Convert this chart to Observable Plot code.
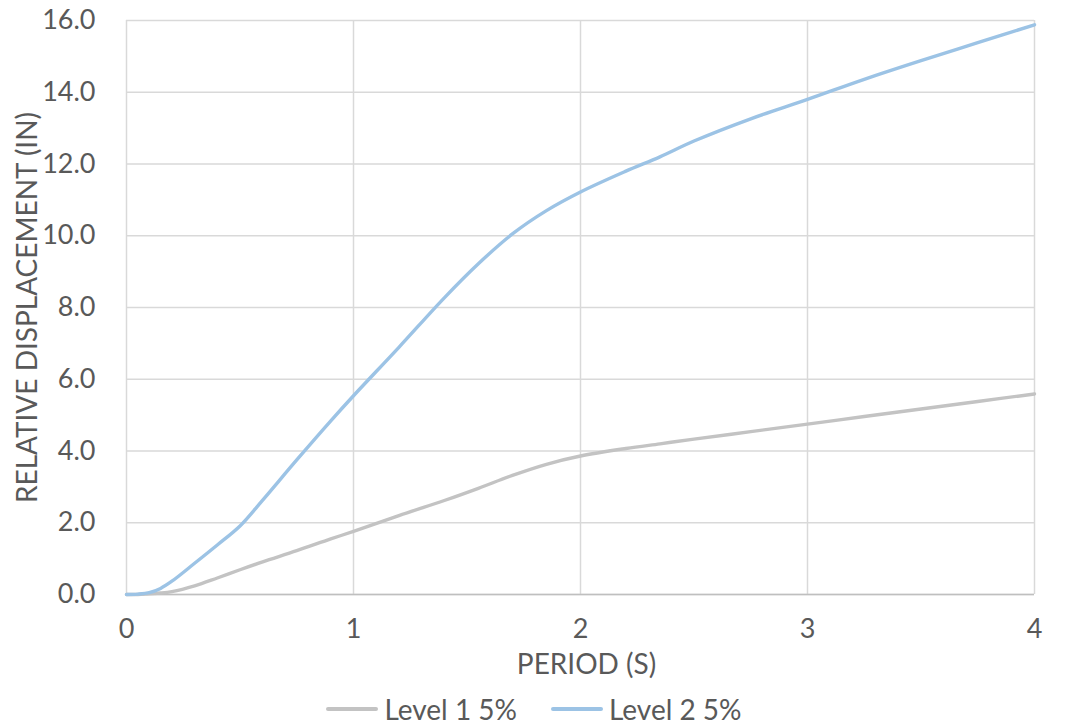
<!DOCTYPE html>
<html>
<head>
<meta charset="utf-8">
<script src="https://cdn.jsdelivr.net/npm/d3@7"></script>
<script src="https://cdn.jsdelivr.net/npm/@observablehq/plot@0.6"></script>
<style>
  html, body { margin: 0; padding: 0; background: #fff; }
  #chart { width: 1068px; }
  .legend { display: flex; justify-content: center; align-items: center; height: 38px;
            font-family: Lato, "Open Sans", sans-serif; font-size: 28px; color: #595959; }
  .legend .item { display: flex; align-items: center; margin: 0 17px; }
  .legend .swatch { width: 52px; height: 4px; margin-right: 6px; border-radius: 2px; }
</style>
</head>
<body>
<div id="chart"></div>
<script>
// Period (s) shared by both response spectra
const period = [0, 0.05, 0.1, 0.15, 0.2, 0.3, 0.4, 0.5, 0.6, 0.75, 0.9, 1.0, 1.2, 1.4, 1.55, 1.7, 1.85, 2.0, 2.2, 2.35, 2.5, 2.75, 3.0, 3.25, 3.5, 3.75, 4.0];

// Relative displacement (in), 5% damping
const level1 = [0, 0, 0.02, 0.04, 0.08, 0.24, 0.46, 0.69, 0.91, 1.22, 1.55, 1.76, 2.2, 2.62, 2.96, 3.32, 3.63, 3.86, 4.07, 4.2, 4.33, 4.54, 4.75, 4.96, 5.17, 5.38, 5.59];
const level2 = [0, 0.01, 0.05, 0.17, 0.37, 0.87, 1.38, 1.91, 2.63, 3.75, 4.84, 5.54, 6.89, 8.27, 9.22, 10.05, 10.7, 11.22, 11.8, 12.2, 12.64, 13.26, 13.8, 14.36, 14.88, 15.38, 15.88];

const seriesNames = ["Level 1 5%", "Level 2 5%"];
const seriesColors = ["#c3c3c3", "#9cc3e5"];

const xTicks = [0, 1, 2, 3, 4];
const yTicks = [0, 2, 4, 6, 8, 10, 12, 14, 16];

const rows = [
  ...period.map((p, i) => ({period: p, value: level1[i], series: seriesNames[0]})),
  ...period.map((p, i) => ({period: p, value: level2[i], series: seriesNames[1]}))
];

const textColor = "#595959";
const gridColor = "#d9d9d9";

const chart = Plot.plot({
  width: 1068,
  height: 690,
  marginLeft: 126,
  marginRight: 34,
  marginTop: 20,
  marginBottom: 96,
  style: {fontFamily: "Lato, 'Open Sans', sans-serif", fontSize: "27px", color: textColor, background: "#fff"},
  x: {domain: [0, 4]},
  y: {domain: [0, 16]},
  color: {domain: seriesNames, range: seriesColors},
  marks: [
    Plot.gridX(xTicks, {stroke: gridColor, strokeOpacity: 1, strokeWidth: 1.5}),
    Plot.gridY(yTicks, {stroke: gridColor, strokeOpacity: 1, strokeWidth: 1.5}),
    Plot.ruleY([0], {stroke: "#bfbfbf", strokeWidth: 1.5}),
    Plot.axisX(xTicks, {tickSize: 0, tickPadding: 24, label: null, tickFormat: d3.format("d"), fill: textColor}),
    Plot.axisY(yTicks, {tickSize: 0, tickPadding: 31, label: null, tickFormat: d3.format(".1f"), fill: textColor}),
    Plot.text(["RELATIVE DISPLACEMENT (IN)"], {frameAnchor: "left", rotate: -90, dx: -98, textAnchor: "middle", lineAnchor: "middle", fill: textColor, fontSize: 28}),
    Plot.text(["PERIOD (S)"], {frameAnchor: "bottom", dx: 6, dy: 71, lineAnchor: "middle", fill: textColor, fontSize: 28}),
    Plot.line(rows, {x: "period", y: "value", stroke: "series", z: "series", strokeWidth: 3.4, curve: "catmull-rom"})
  ]
});
document.getElementById("chart").appendChild(chart);

// Legend below the plot
const legend = document.createElement("div");
legend.className = "legend";
seriesNames.forEach((name, i) => {
  const item = document.createElement("div");
  item.className = "item";
  const sw = document.createElement("span");
  sw.className = "swatch";
  sw.style.background = seriesColors[i];
  const label = document.createElement("span");
  label.textContent = name;
  item.appendChild(sw);
  item.appendChild(label);
  legend.appendChild(item);
});
document.getElementById("chart").appendChild(legend);
</script>
</body>
</html>
